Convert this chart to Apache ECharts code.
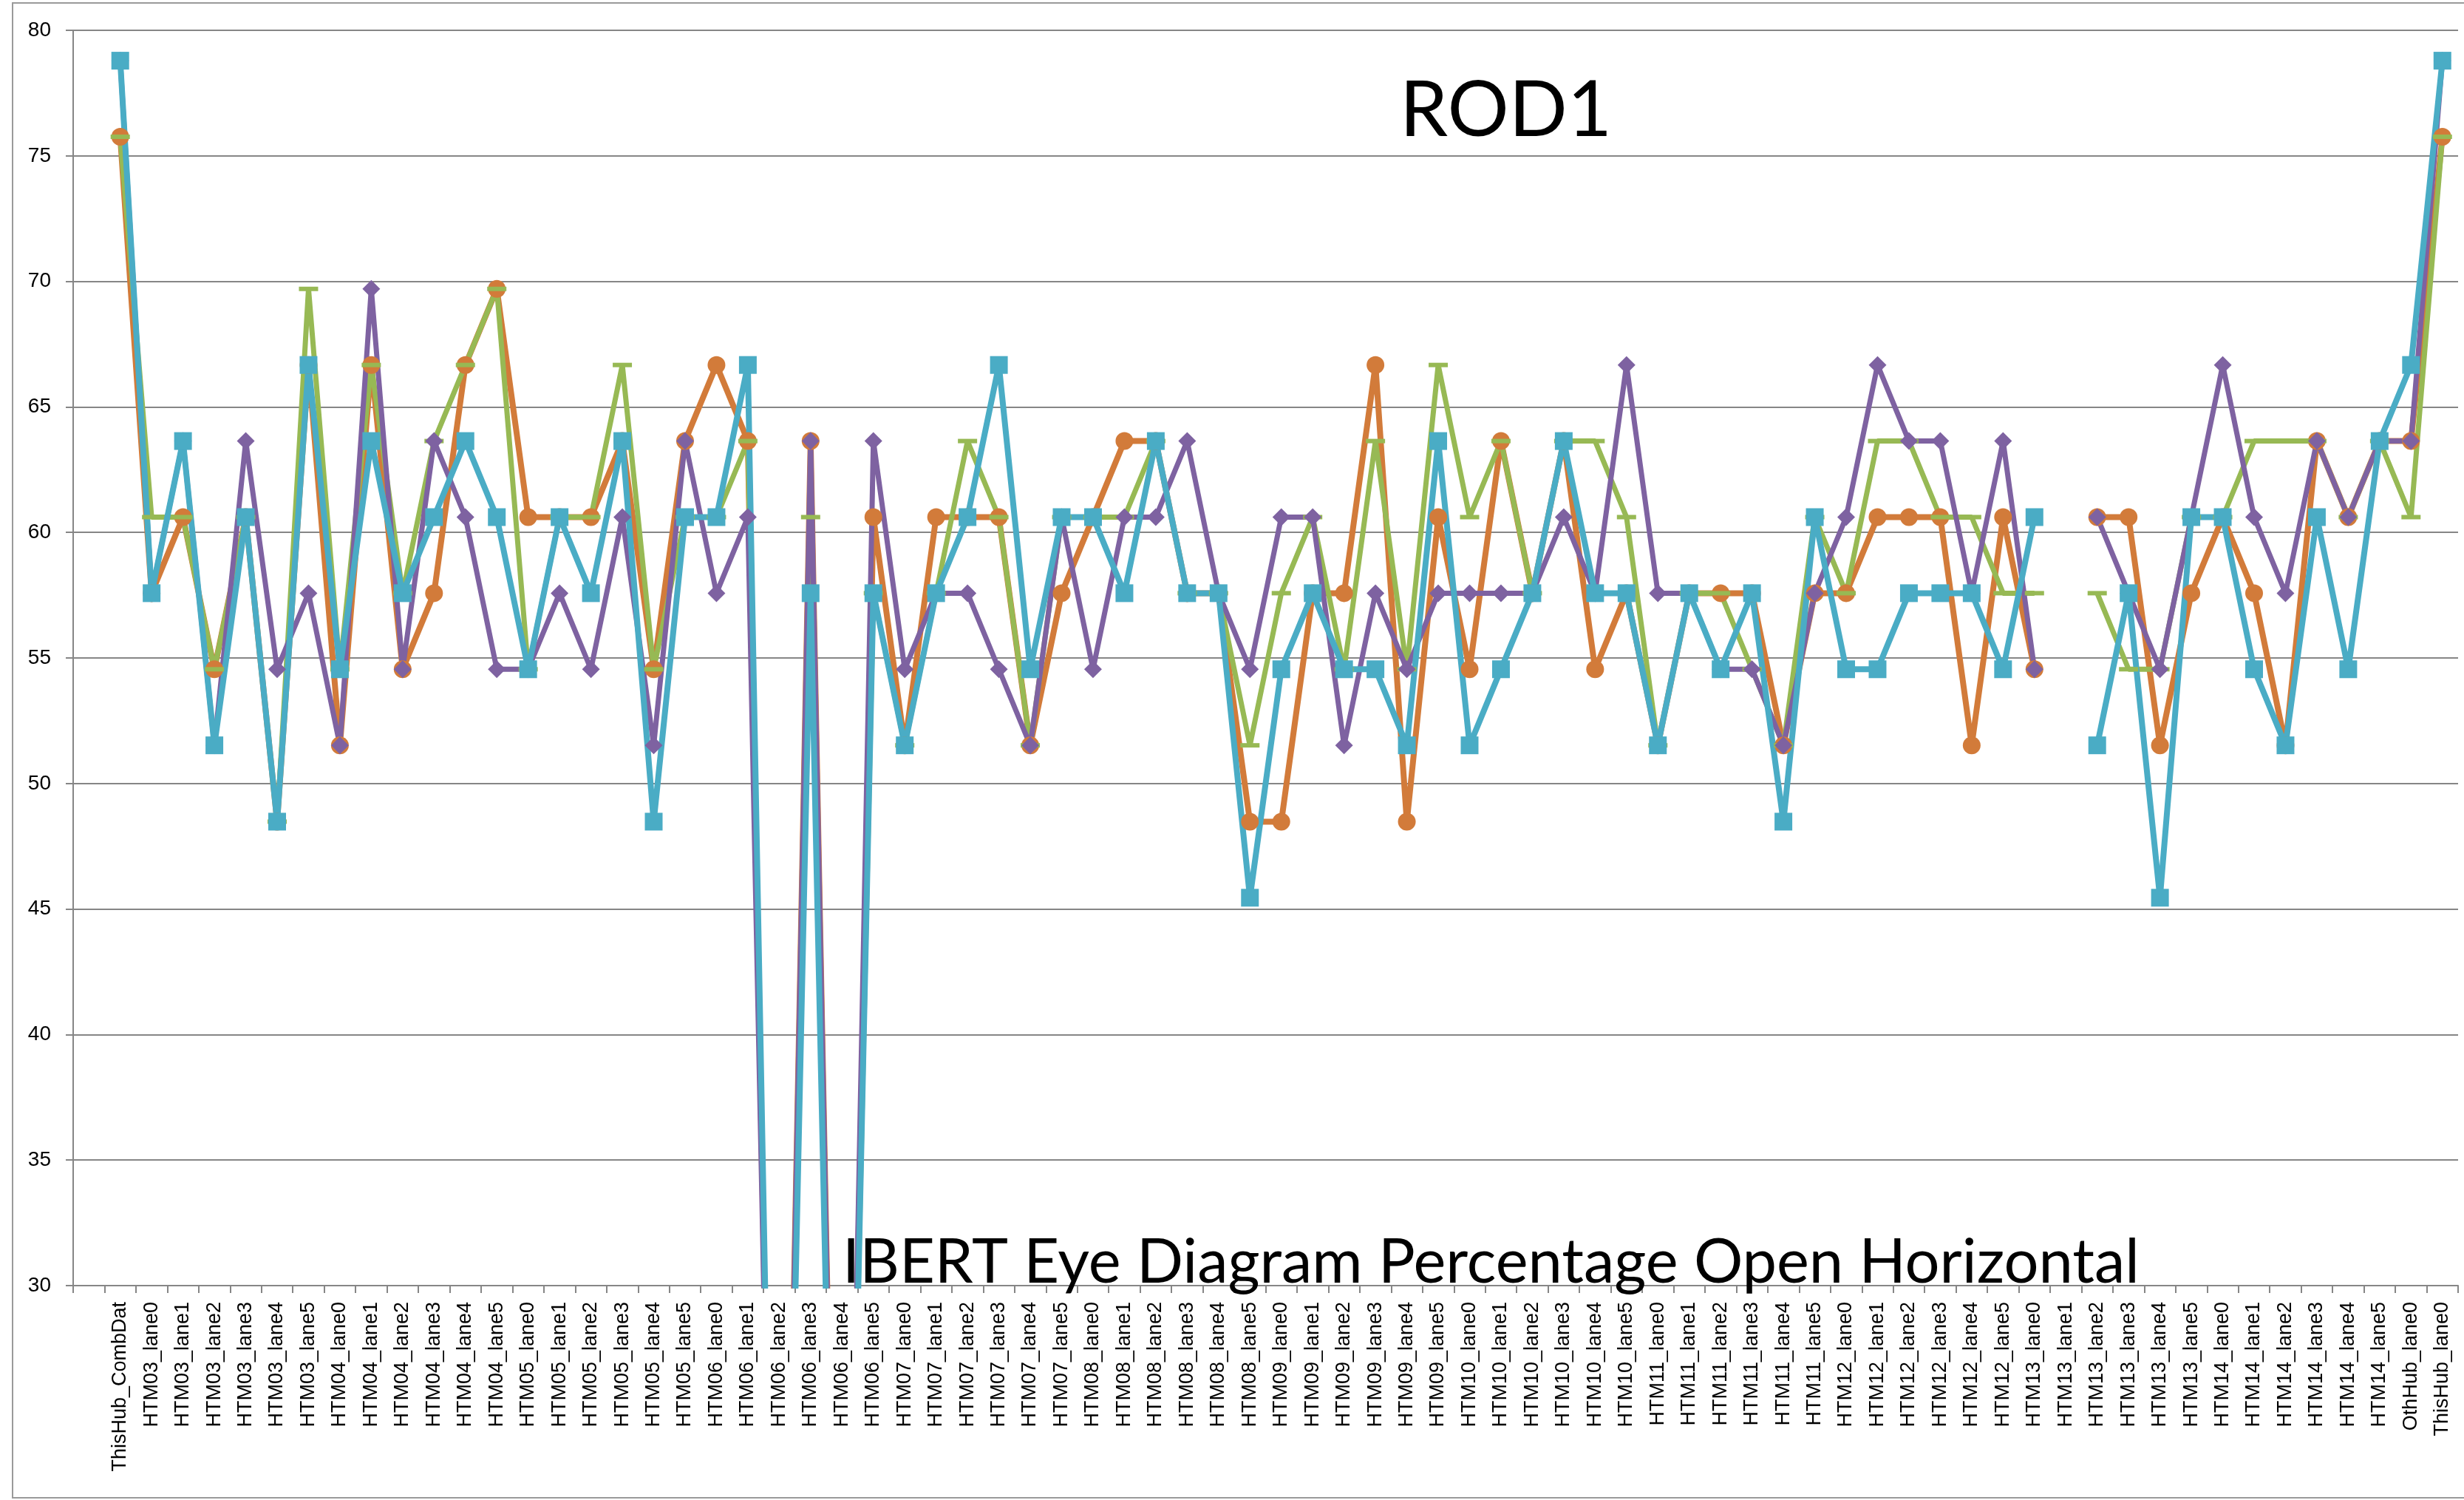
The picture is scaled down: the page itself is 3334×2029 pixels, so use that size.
<!DOCTYPE html>
<html><head><meta charset="utf-8">
<script src="https://cdn.jsdelivr.net/npm/echarts@6/dist/echarts.min.js"></script>
<style>html,body{margin:0;padding:0;background:#fff}#c{width:3334px;height:2029px}</style>
</head><body><div id="c"></div>
<script>
const categories = ['',
 'ThisHub_CombDat',
 'HTM03_lane0','HTM03_lane1','HTM03_lane2','HTM03_lane3','HTM03_lane4','HTM03_lane5',
 'HTM04_lane0','HTM04_lane1','HTM04_lane2','HTM04_lane3','HTM04_lane4','HTM04_lane5',
 'HTM05_lane0','HTM05_lane1','HTM05_lane2','HTM05_lane3','HTM05_lane4','HTM05_lane5',
 'HTM06_lane0','HTM06_lane1','HTM06_lane2','HTM06_lane3','HTM06_lane4','HTM06_lane5',
 'HTM07_lane0','HTM07_lane1','HTM07_lane2','HTM07_lane3','HTM07_lane4','HTM07_lane5',
 'HTM08_lane0','HTM08_lane1','HTM08_lane2','HTM08_lane3','HTM08_lane4','HTM08_lane5',
 'HTM09_lane0','HTM09_lane1','HTM09_lane2','HTM09_lane3','HTM09_lane4','HTM09_lane5',
 'HTM10_lane0','HTM10_lane1','HTM10_lane2','HTM10_lane3','HTM10_lane4','HTM10_lane5',
 'HTM11_lane0','HTM11_lane1','HTM11_lane2','HTM11_lane3','HTM11_lane4','HTM11_lane5',
 'HTM12_lane0','HTM12_lane1','HTM12_lane2','HTM12_lane3','HTM12_lane4','HTM12_lane5',
 'HTM13_lane0','HTM13_lane1','HTM13_lane2','HTM13_lane3','HTM13_lane4','HTM13_lane5',
 'HTM14_lane0','HTM14_lane1','HTM14_lane2','HTM14_lane3','HTM14_lane4','HTM14_lane5',
 'OthHub_lane0','ThisHub_lane0'];

const yTicks = { min: 30, max: 80, interval: 5 };

const orangeVals = [null,
 75.76,
 57.58,60.61,54.55,60.61,48.48,66.67,
 51.52,66.67,54.55,57.58,66.67,69.70,
 60.61,60.61,60.61,63.64,54.55,63.64,
 66.67,63.64,0,63.64,0,60.61,
 51.52,60.61,60.61,60.61,51.52,57.58,
 60.61,63.64,63.64,57.58,57.58,48.48,
 48.48,57.58,57.58,66.67,48.48,60.61,
 54.55,63.64,57.58,63.64,54.55,57.58,
 51.52,57.58,57.58,57.58,51.52,57.58,
 57.58,60.61,60.61,60.61,51.52,60.61,
 54.55,null,60.61,60.61,51.52,57.58,
 60.61,57.58,51.52,63.64,60.61,63.64,
 63.64,75.76];

const greenVals = [null,
 75.76,
 60.61,60.61,54.55,60.61,48.48,69.70,
 54.55,66.67,57.58,63.64,66.67,69.70,
 54.55,60.61,60.61,66.67,54.55,60.61,
 60.61,63.64,0,60.61,0,57.58,
 51.52,57.58,63.64,60.61,51.52,60.61,
 60.61,60.61,63.64,57.58,57.58,51.52,
 57.58,60.61,54.55,63.64,54.55,66.67,
 60.61,63.64,57.58,63.64,63.64,60.61,
 51.52,57.58,57.58,54.55,51.52,60.61,
 57.58,63.64,63.64,60.61,60.61,57.58,
 57.58,null,57.58,54.55,54.55,60.61,
 60.61,63.64,63.64,63.64,60.61,63.64,
 60.61,75.76];

const purpleVals = [null,
 78.79,
 57.58,63.64,51.52,63.64,54.55,57.58,
 51.52,69.70,54.55,63.64,60.61,54.55,
 54.55,57.58,54.55,60.61,51.52,63.64,
 57.58,60.61,0,63.64,0,63.64,
 54.55,57.58,57.58,54.55,51.52,60.61,
 54.55,60.61,60.61,63.64,57.58,54.55,
 60.61,60.61,51.52,57.58,54.55,57.58,
 57.58,57.58,57.58,60.61,57.58,66.67,
 57.58,57.58,54.55,54.55,51.52,57.58,
 60.61,66.67,63.64,63.64,57.58,63.64,
 54.55,null,60.61,57.58,54.55,60.61,
 66.67,60.61,57.58,63.64,60.61,63.64,
 63.64,78.79];

const blueVals = [null,
 78.79,
 57.58,63.64,51.52,60.61,48.48,66.67,
 54.55,63.64,57.58,60.61,63.64,60.61,
 54.55,60.61,57.58,63.64,48.48,60.61,
 60.61,66.67,0,57.58,0,57.58,
 51.52,57.58,60.61,66.67,54.55,60.61,
 60.61,57.58,63.64,57.58,57.58,45.45,
 54.55,57.58,54.55,54.55,51.52,63.64,
 51.52,54.55,57.58,63.64,57.58,57.58,
 51.52,57.58,54.55,57.58,48.48,60.61,
 54.55,54.55,57.58,57.58,57.58,54.55,
 60.61,null,51.52,57.58,45.45,60.61,
 60.61,54.55,51.52,60.61,54.55,63.64,
 66.67,78.79];

const chartTitle = 'ROD1';
const bottomText = 'IBERT Eye Diagram Percentage Open Horizontal';

const chart = echarts.init(document.getElementById('c'), null, { renderer: 'canvas' });
const gray = '#868686';
function mk(name, data, color, symbol, size, lw) {
  return {
    name, type: 'line', data, symbol, symbolSize: size, showSymbol: true,
    connectNulls: false, clip: true, animation: false,
    lineStyle: { color, width: lw },
    itemStyle: { color, borderWidth: 0 },
    emphasis: { disabled: true }
  };
}
chart.setOption({
  animation: false,
  backgroundColor: '#fff',
  title: {
    text: chartTitle, left: 1889, top: 93,
    textStyle: { fontFamily: 'Lato', fontSize: 104, fontWeight: 'normal', color: '#000' }
  },
  grid: { left: 99, right: 8, top: 41, bottom: 290, containLabel: false },
  xAxis: {
    type: 'category', data: categories, boundaryGap: true,
    axisLine: { show: true, lineStyle: { color: gray, width: 2 } },
    axisTick: { show: true, interval: 0, length: 10, lineStyle: { color: gray, width: 2 } },
    axisLabel: { interval: 0, rotate: 90, margin: 22, fontFamily: 'Liberation Sans', fontSize: 27, color: '#000' },
    splitLine: { show: false }
  },
  yAxis: {
    type: 'value', min: yTicks.min, max: yTicks.max, interval: yTicks.interval,
    axisLine: { show: true, lineStyle: { color: gray, width: 2 } },
    axisTick: { show: true, length: 10, lineStyle: { color: gray, width: 2 } },
    axisLabel: { margin: 30, fontFamily: 'Liberation Sans', fontSize: 28, color: '#000' },
    splitLine: { show: true, lineStyle: { color: gray, width: 2 } }
  },
  graphic: [
    { type: 'rect', shape: { x: 17, y: 4, width: 3330, height: 2022 }, style: { fill: 'none', stroke: '#9a9a9a', lineWidth: 2 }, z: -1 },
    { type: 'text', x: 1140, y: 1667, z: 100,
      style: { text: bottomText, fontFamily: 'Lato', fontSize: 83, fill: '#000' } }
  ],
  series: [
    mk('Orange', orangeVals, '#D27B3A', 'circle', 24, 8),
    mk('Green', greenVals, '#97B954', 'rect', [26, 6], 7),
    mk('Purple', purpleVals, '#7E62A1', 'diamond', 24, 7),
    mk('Blue', blueVals, '#4AACC5', 'rect', 24, 8)
  ]
});
</script></body></html>
